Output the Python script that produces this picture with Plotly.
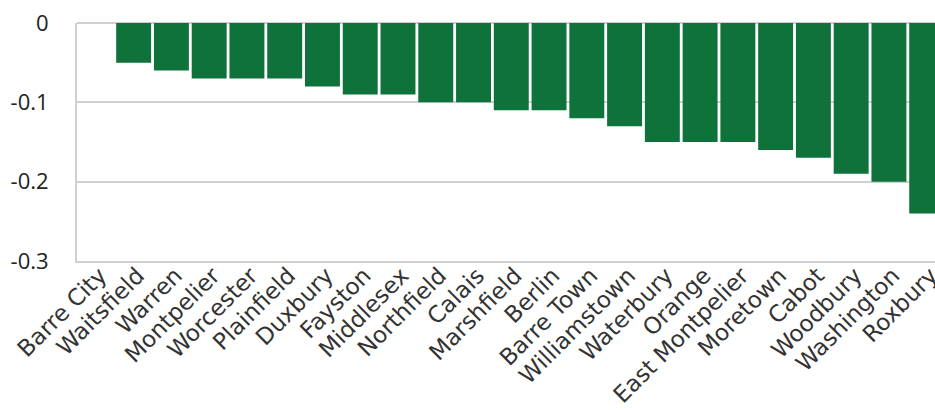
import plotly.graph_objects as go

towns = ["Barre City", "Waitsfield", "Warren", "Montpelier", "Worcester", "Plainfield",
         "Duxbury", "Fayston", "Middlesex", "Northfield", "Calais", "Marshfield",
         "Berlin", "Barre Town", "Williamstown", "Waterbury", "Orange",
         "East Montpelier", "Moretown", "Cabot", "Woodbury", "Washington", "Roxbury"]
values = [0, -0.05, -0.06, -0.07, -0.07, -0.07, -0.08, -0.09, -0.09, -0.10, -0.10,
          -0.11, -0.11, -0.12, -0.13, -0.15, -0.15, -0.15, -0.16, -0.17, -0.19,
          -0.20, -0.24]
y_ticks = [0, -0.1, -0.2, -0.3]
y_tick_labels = ["0", "-0.1", "-0.2", "-0.3"]

GREEN = "#0f723a"
GRID = "#d0d0d0"

fig = go.Figure(go.Bar(x=towns, y=values, marker=dict(color=GREEN, line=dict(width=0))))

fig.update_layout(
    width=935, height=410,
    margin=dict(l=77, r=0, t=23, b=149, autoexpand=False),
    paper_bgcolor="white", plot_bgcolor="white",
    bargap=0.075,
    showlegend=False,
    font=dict(family="DejaVu Sans"),
    xaxis=dict(
        range=[-0.5, 22.22],
        automargin=False,
        tickangle=-45,
        tickfont=dict(family="DejaVu Sans", size=23, color="#333"),
        showgrid=False, showline=True, linecolor=GRID, linewidth=2,
        ticks="", ticklabelstandoff=-10, ticklabelshift=4,
    ),
    yaxis=dict(
        range=[-0.3, 0],
        automargin=False,
        tickvals=y_ticks, ticktext=y_tick_labels,
        tickfont=dict(family="Open Sans", size=22, color="#222"),
        showgrid=True, gridcolor=GRID, gridwidth=2,
        zeroline=True, zerolinecolor=GRID, zerolinewidth=2,
        showline=True, linecolor=GRID, linewidth=2,
        ticks="", ticklabelstandoff=22,
    ),
)

fig.write_html("out.html")
